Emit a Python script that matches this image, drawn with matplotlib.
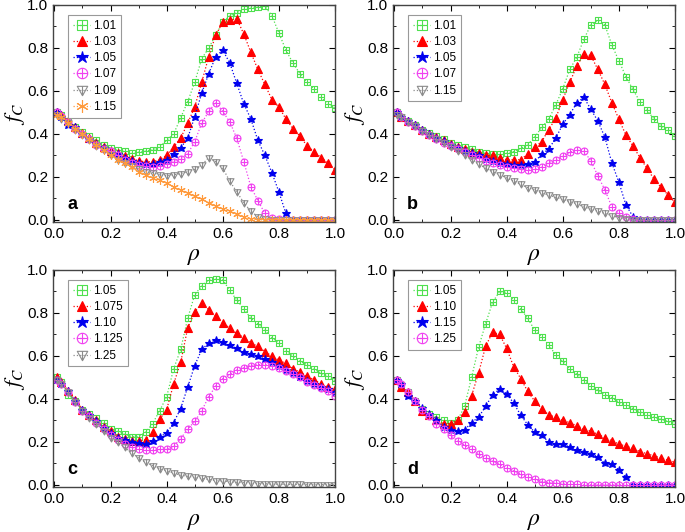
import matplotlib
matplotlib.use("Agg")
import matplotlib.pyplot as plt
import numpy as np
from matplotlib.path import Path
from matplotlib.ticker import MultipleLocator

plt.rcParams["font.family"] = ["Liberation Sans", "DejaVu Sans"]
plt.rcParams["mathtext.fontset"] = "stix"

rho = [0.01] + [round(0.025 * k, 3) for k in range(1, 41)]

# panel a
a_labels = ["1.01", "1.03", "1.05", "1.07", "1.09", "1.15"]
a_101 = [0.50, 0.49, 0.46, 0.43, 0.41, 0.39, 0.37, 0.35, 0.335, 0.325, 0.32, 0.31, 0.315, 0.32, 0.325, 0.34,
         0.37, 0.40, 0.475, 0.55, 0.64, 0.75, 0.80, 0.86, 0.92, 0.95, 0.965, 0.98, 0.985, 0.99, 0.995,
         0.95, 0.87, 0.79, 0.73, 0.68, 0.64, 0.61, 0.57, 0.54, 0.52]
a_103 = [0.50, 0.49, 0.46, 0.43, 0.405, 0.38, 0.36, 0.34, 0.32, 0.31, 0.295, 0.285, 0.275, 0.27, 0.27, 0.28,
         0.30, 0.34, 0.38, 0.45, 0.525, 0.64, 0.76, 0.86, 0.92, 0.93, 0.935, 0.865, 0.78, 0.70, 0.63,
         0.56, 0.525, 0.47, 0.425, 0.39, 0.345, 0.318, 0.29, 0.264, 0.233]
a_105 = [0.50, 0.48, 0.44, 0.43, 0.40, 0.375, 0.355, 0.335, 0.31, 0.305, 0.29, 0.275, 0.265, 0.26, 0.26, 0.27,
         0.28, 0.307, 0.335, 0.38, 0.48, 0.59, 0.68, 0.76, 0.79, 0.73, 0.635, 0.54, 0.47, 0.37, 0.30,
         0.22, 0.13, 0.03, 0.0, 0.0, 0.0, 0.0, 0.0, 0.0, 0.0]
a_107 = [0.50, 0.485, 0.455, 0.425, 0.40, 0.375, 0.35, 0.33, 0.32, 0.30, 0.28, 0.265, 0.255, 0.25, 0.245, 0.25,
         0.26, 0.27, 0.285, 0.307, 0.364, 0.45, 0.505, 0.545, 0.505, 0.455, 0.38, 0.27, 0.155, 0.09, 0.03,
         0.01, 0.005, 0.0, 0.0, 0.0, 0.0, 0.0, 0.0, 0.0, 0.0]
a_109 = [0.49, 0.47, 0.45, 0.42, 0.395, 0.37, 0.345, 0.325, 0.30, 0.28, 0.265, 0.25, 0.235, 0.225, 0.22, 0.21,
         0.205, 0.21, 0.215, 0.225, 0.235, 0.255, 0.29, 0.27, 0.24, 0.18, 0.13, 0.08, 0.04, 0.015, 0.005,
         0.0, 0.0, 0.0, 0.0, 0.0, 0.0, 0.0, 0.0, 0.0, 0.0]
a_115 = [0.49, 0.48, 0.45, 0.425, 0.40, 0.375, 0.35, 0.325, 0.30, 0.28, 0.265, 0.245, 0.225, 0.21, 0.195, 0.185,
         0.17, 0.155, 0.14, 0.125, 0.11, 0.095, 0.08, 0.065, 0.05, 0.04, 0.025, 0.015, 0.005, 0.0, 0.0,
         0.0, 0.0, 0.0, 0.0, 0.0, 0.0, 0.0, 0.0, 0.0, 0.0]

# panel b
b_labels = ["1.01", "1.03", "1.05", "1.07", "1.15"]
b_101 = [0.50, 0.48, 0.46, 0.44, 0.42, 0.405, 0.39, 0.375, 0.36, 0.35, 0.34, 0.33, 0.315, 0.31, 0.305, 0.305,
         0.31, 0.318, 0.333, 0.35, 0.385, 0.43, 0.468, 0.535, 0.61, 0.70, 0.757, 0.84, 0.907, 0.93, 0.907,
         0.814, 0.74, 0.667, 0.607, 0.55, 0.51, 0.47, 0.437, 0.42, 0.39]
b_103 = [0.50, 0.48, 0.46, 0.44, 0.42, 0.40, 0.385, 0.37, 0.355, 0.34, 0.33, 0.315, 0.31, 0.30, 0.30, 0.29,
         0.28, 0.28, 0.28, 0.307, 0.34, 0.364, 0.42, 0.473, 0.56, 0.64, 0.716, 0.77, 0.765, 0.70, 0.63,
         0.545, 0.468, 0.395, 0.344, 0.29, 0.24, 0.19, 0.152, 0.116, 0.082]
b_105 = [0.50, 0.48, 0.46, 0.44, 0.42, 0.40, 0.38, 0.365, 0.35, 0.335, 0.32, 0.31, 0.30, 0.285, 0.275, 0.265,
         0.26, 0.255, 0.255, 0.26, 0.27, 0.305, 0.33, 0.38, 0.445, 0.49, 0.545, 0.57, 0.515, 0.46, 0.385,
         0.265, 0.175, 0.07, 0.015, 0.0, 0.0, 0.0, 0.0, 0.0, 0.0]
b_107 = [0.50, 0.48, 0.455, 0.435, 0.415, 0.395, 0.375, 0.36, 0.345, 0.33, 0.315, 0.30, 0.29, 0.275, 0.265, 0.255,
         0.245, 0.24, 0.235, 0.23, 0.235, 0.245, 0.265, 0.28, 0.295, 0.315, 0.325, 0.32, 0.275, 0.205, 0.14,
         0.06, 0.03, 0.015, 0.005, 0.0, 0.0, 0.0, 0.0, 0.0, 0.0]
b_115 = [0.49, 0.48, 0.455, 0.435, 0.415, 0.395, 0.375, 0.36, 0.34, 0.32, 0.30, 0.28, 0.26, 0.24, 0.225, 0.21,
         0.195, 0.18, 0.165, 0.15, 0.14, 0.125, 0.115, 0.105, 0.095, 0.085, 0.075, 0.06, 0.05, 0.04, 0.03,
         0.02, 0.01, 0.005, 0.0, 0.0, 0.0, 0.0, 0.0, 0.0, 0.0]

# panel c
c_labels = ["1.05", "1.075", "1.10", "1.125", "1.25"]
c_105 = [0.50, 0.48, 0.42, 0.39, 0.35, 0.33, 0.31, 0.29, 0.26, 0.25, 0.235, 0.225, 0.225, 0.245, 0.285, 0.345,
         0.41, 0.54, 0.63, 0.775, 0.885, 0.925, 0.955, 0.96, 0.955, 0.905, 0.86, 0.82, 0.775, 0.75, 0.72,
         0.685, 0.66, 0.625, 0.60, 0.575, 0.56, 0.54, 0.52, 0.505, 0.485]
c_1075 = [0.50, 0.48, 0.435, 0.395, 0.35, 0.325, 0.30, 0.27, 0.25, 0.225, 0.215, 0.205, 0.205, 0.21, 0.245, 0.305,
          0.35, 0.47, 0.57, 0.73, 0.805, 0.845, 0.815, 0.785, 0.755, 0.73, 0.705, 0.685, 0.66, 0.645, 0.62,
          0.60, 0.58, 0.565, 0.54, 0.525, 0.505, 0.49, 0.47, 0.455, 0.445]
c_110 = [0.49, 0.47, 0.435, 0.39, 0.35, 0.325, 0.295, 0.265, 0.24, 0.22, 0.21, 0.20, 0.195, 0.19, 0.205, 0.225,
         0.24, 0.29, 0.355, 0.455, 0.555, 0.63, 0.66, 0.675, 0.665, 0.65, 0.635, 0.62, 0.61, 0.60, 0.585,
         0.57, 0.555, 0.535, 0.52, 0.50, 0.485, 0.47, 0.455, 0.445, 0.43]
c_1125 = [0.49, 0.47, 0.43, 0.385, 0.345, 0.32, 0.29, 0.26, 0.23, 0.21, 0.19, 0.175, 0.165, 0.16, 0.16, 0.165,
          0.165, 0.18, 0.215, 0.26, 0.295, 0.345, 0.41, 0.46, 0.495, 0.515, 0.535, 0.545, 0.555, 0.56, 0.56,
          0.555, 0.545, 0.53, 0.515, 0.50, 0.48, 0.465, 0.45, 0.435, 0.415]
c_125 = [0.49, 0.47, 0.43, 0.385, 0.345, 0.31, 0.285, 0.25, 0.22, 0.20, 0.175, 0.15, 0.125, 0.105, 0.09, 0.075,
         0.065, 0.055, 0.045, 0.04, 0.035, 0.03, 0.025, 0.02, 0.018, 0.015, 0.012, 0.01, 0.008, 0.006, 0.005,
         0.004, 0.003, 0.002, 0.002, 0.002, 0.001, 0.001, 0.001, 0.001, 0.001]

# panel d
d_labels = ["1.05", "1.10", "1.15", "1.25"]
d_105 = [0.49, 0.465, 0.43, 0.39, 0.355, 0.33, 0.315, 0.30, 0.29, 0.30, 0.365, 0.50, 0.64, 0.75, 0.85, 0.90,
         0.895, 0.86, 0.82, 0.775, 0.72, 0.69, 0.65, 0.605, 0.575, 0.54, 0.515, 0.49, 0.46, 0.44, 0.42,
         0.405, 0.385, 0.37, 0.355, 0.34, 0.325, 0.315, 0.305, 0.295, 0.285]
d_110 = [0.49, 0.455, 0.43, 0.39, 0.345, 0.325, 0.30, 0.285, 0.285, 0.30, 0.34, 0.415, 0.52, 0.645, 0.71, 0.70,
         0.635, 0.55, 0.495, 0.435, 0.39, 0.355, 0.325, 0.315, 0.30, 0.29, 0.275, 0.26, 0.25, 0.235, 0.22,
         0.205, 0.19, 0.18, 0.17, 0.155, 0.145, 0.135, 0.125, 0.115, 0.105]
d_115 = [0.49, 0.47, 0.415, 0.39, 0.36, 0.33, 0.30, 0.27, 0.255, 0.25, 0.255, 0.29, 0.315, 0.365, 0.42, 0.445,
         0.425, 0.38, 0.325, 0.28, 0.245, 0.23, 0.20, 0.19, 0.19, 0.175, 0.16, 0.155, 0.145, 0.13, 0.10,
         0.095, 0.07, 0.035, 0.0, 0.0, 0.0, 0.0, 0.0, 0.0, 0.0]
d_125 = [0.49, 0.47, 0.43, 0.39, 0.35, 0.32, 0.285, 0.26, 0.23, 0.205, 0.185, 0.165, 0.145, 0.125, 0.11, 0.095,
         0.08, 0.065, 0.05, 0.035, 0.025, 0.015, 0.01, 0.008, 0.005, 0.003, 0.002, 0.001, 0.0, 0.0, 0.0,
         0.0, 0.0, 0.0, 0.0, 0.0, 0.0, 0.0, 0.0, 0.0, 0.0]

M, L, C = Path.MOVETO, Path.LINETO, Path.CLOSEPOLY
plus = Path([(-1, 0), (1, 0), (0, -1), (0, 1)], [M, L, M, L])
sq_plus = Path([(-1, -1), (1, -1), (1, 1), (-1, 1), (-1, -1), (-1, 0), (1, 0), (0, -1), (0, 1)],
               [M, L, L, L, C, M, L, M, L])
circ_plus = Path.make_compound_path(Path.unit_circle(), plus)
tri_line = Path([(-1, 0.8), (1, 0.8), (0, -1), (-1, 0.8), (0, 0.8), (0, -1)], [M, L, L, C, M, L])

# (marker, colour, filled, size)
styles = {
    "green": (sq_plus, "#4fe04f", False, 4.6),
    "red": ("^", "#ff0000", True, 5.2),
    "blue": ("*", "#0000ee", True, 6.2),
    "magenta": (circ_plus, "#f040f0", False, 5.0),
    "gray": (tri_line, "#8c8c8c", False, 5.0),
    "orange": ((6, 2, 0), "#ff9a3c", False, 6.0),
}
order = ["green", "red", "blue", "magenta", "gray", "orange"]

panels = [
    ("a", a_labels, [a_101, a_103, a_105, a_107, a_109, a_115]),
    ("b", b_labels, [b_101, b_103, b_105, b_107, b_115]),
    ("c", c_labels, [c_105, c_1075, c_110, c_1125, c_125]),
    ("d", d_labels, [d_105, d_110, d_115, d_125]),
]

W, H = 685, 532
boxes = [(53, 5), (393, 5), (53, 270), (393, 270)]  # left, top in pixels
fig = plt.figure(figsize=(6.85, 5.32), dpi=100)

for (letter, labels, series), (px, py) in zip(panels, boxes):
    ax = fig.add_axes([px / W, 1 - (py + 217) / H, 282 / W, 217 / H])
    for lab, vals, key in zip(labels, series, order):
        mk, col, filled, ms = styles[key]
        ax.plot(rho, vals, linestyle=":", linewidth=0.9, color=col, marker=mk, markersize=ms,
                markerfacecolor=col if filled else "none", markeredgecolor=col,
                markeredgewidth=0.8, label=lab)
    ax.set_xlim(-0.005, 1.0)
    ax.set_ylim(-0.01, 1.0)
    ax.xaxis.set_major_locator(MultipleLocator(0.2))
    ax.xaxis.set_minor_locator(MultipleLocator(0.1))
    ax.yaxis.set_major_locator(MultipleLocator(0.2))
    ax.yaxis.set_minor_locator(MultipleLocator(0.1))
    ax.tick_params(which="both", direction="in", top=True, right=True, labelsize=11)
    ax.tick_params(which="major", length=4)
    ax.tick_params(which="minor", length=2.5)
    ax.set_xticks(np.arange(0, 1.01, 0.2))
    ax.set_xticklabels([f"{v:.1f}" for v in np.arange(0, 1.01, 0.2)])
    ax.set_yticklabels([f"{v:.1f}" for v in ax.get_yticks()])
    for s in ax.spines.values():
        s.set_color("#444444")
        s.set_linewidth(1.0)
    ax.set_xlabel(r"$\rho$", fontsize=17, labelpad=3)
    ax.set_ylabel(r"$f_C$", fontsize=16, labelpad=0)
    ax.text(0.05, 0.06, letter, transform=ax.transAxes, fontsize=13, fontweight="bold")
    leg = ax.legend(loc="upper left", bbox_to_anchor=(0.045, 0.965), fontsize=8.5, markerscale=1.5,
                    handlelength=1.5, handletextpad=0.25, labelspacing=0.36, borderpad=0.4,
                    borderaxespad=0.2, fancybox=False, edgecolor="#999999", framealpha=1)
    leg.get_frame().set_linewidth(0.8)

fig.savefig("out.png", dpi=100)
